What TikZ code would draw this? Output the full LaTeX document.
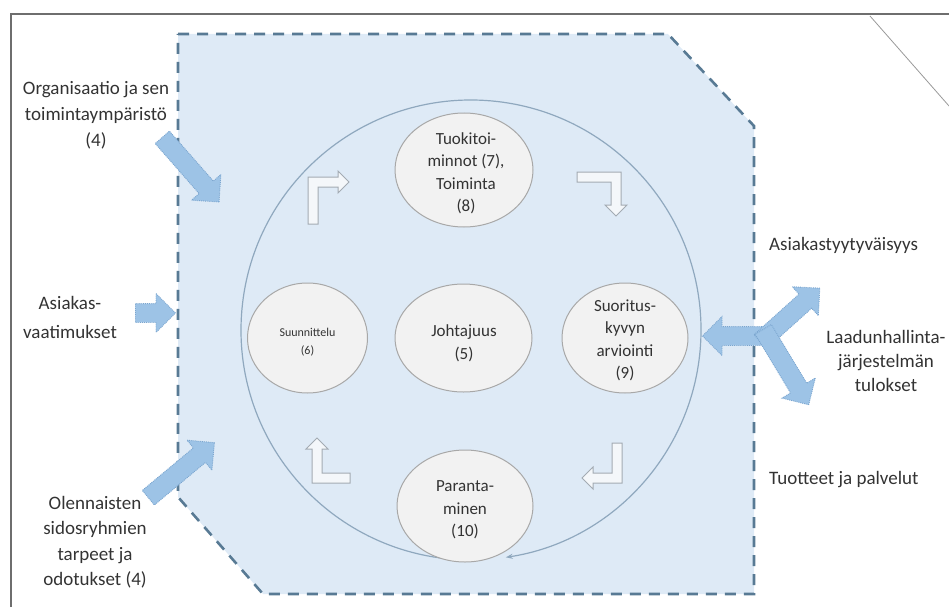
\documentclass[tikz,border=0pt]{standalone}
\usepackage{fontspec}
\setmainfont{Carlito}
\usetikzlibrary{shapes.geometric,shapes.arrows,arrows.meta}
\definecolor{panelfill}{HTML}{DEEAF6}
\definecolor{paneldash}{HTML}{587A94}
\definecolor{framegray}{HTML}{6E6E6E}
\definecolor{ringcol}{HTML}{8FA8BE}
\definecolor{ellfill}{HTML}{F2F2F2}
\definecolor{elldraw}{HTML}{A8A8A8}
\definecolor{blockfill}{HTML}{9DC3E6}
\definecolor{blockdraw}{HTML}{7AA5CF}
\definecolor{txtcol}{HTML}{333333}
\definecolor{bentfill}{HTML}{F4F7FA}
\definecolor{bentdraw}{HTML}{A3ABB3}
\begin{document}
\begin{tikzpicture}[x=1pt,y=-1pt,
  ell/.style={ellipse,fill=ellfill,draw=elldraw,line width=1pt,inner sep=0pt},
  elltxt/.style={align=center,text=txtcol,inner sep=0pt,font=\fontsize{17}{22.5}\selectfont},
  lbl/.style={align=center,text=txtcol,inner sep=0pt,font=\fontsize{19}{26}\selectfont},
  blockarr/.style={single arrow,fill=blockfill,draw=blockdraw,densely dotted,line width=0.9pt,
    text height=0pt,text depth=0pt,inner xsep=0pt,inner ysep=9pt,
    single arrow head extend=10pt,anchor=tail},
  bent/.style={fill=bentfill,draw=bentdraw,line width=1pt,line join=miter}]
\useasboundingbox (0,0) rectangle (949,607);
% outer frame
\draw[framegray,line width=2.5pt] (11,607) -- (11,14) -- (949,14);
\draw[gray!80,line width=0.8pt] (870,16) -- (949,106);
% dashed panel
\draw[fill=panelfill,draw=paneldash,line width=2.6pt,dash pattern=on 11pt off 8pt]
  (178,34) -- (668,34) -- (754,126) -- (754,594) -- (263,594) -- (178,497) -- cycle;
% ring
\draw[ringcol,line width=1.2pt,-{Stealth[length=7pt,width=5pt]}]
  ([shift={(95:230)}]471,330) arc[start angle=95,end angle=441.3,radius=230];
% ellipses
\node[ell,minimum width=138pt,minimum height=114pt] (tuki) at (464,170) {};
\node[elltxt] (tukitxt) at (466,173.5) {Tuokitoi-\\minnot (7),\\Toiminta\\(8)};
\node[ell,minimum width=120pt,minimum height=110pt] (suun) at (307.5,338) {};
\node[elltxt,font=\fontsize{12}{18}\selectfont] (suuntxt) at (307.5,342) {Suunnittelu\\(6)};
\node[ell,minimum width=137pt,minimum height=108pt] (joht) at (463.5,338) {};
\node[elltxt] (johttxt) at (464,343.5) {Johtajuus\\(5)};
\node[ell,minimum width=126pt,minimum height=110pt] (suor) at (625,338) {};
\node[elltxt] (suortxt) at (625,340.5) {Suoritus-\\kyvyn\\arviointi\\(9)};
\node[ell,minimum width=136pt,minimum height=112pt] (para) at (465,506) {};
\node[elltxt] (paratxt) at (465,510) {Paranta-\\minen\\(10)};
% bent arrows
\draw[bent] (308,224) -- (308,177) -- (338,177) -- (338,171) -- (349,182) -- (338,193) -- (338,187) -- (318,187) -- (318,224) -- cycle;
\draw[bent] (577,172) -- (621,172) -- (621,205) -- (627,205) -- (616,216) -- (605,205) -- (611,205) -- (611,182) -- (577,182) -- cycle;
\draw[bent] (622,443) -- (622,483) -- (593,483) -- (593,489) -- (582,478) -- (593,467) -- (593,473) -- (612,473) -- (612,443) -- cycle;
\draw[bent] (350,483) -- (312,483) -- (312,449) -- (306,449) -- (317,438) -- (328,449) -- (322,449) -- (322,473) -- (350,473) -- cycle;
% left labels and input arrows
\node[lbl] (org) at (96,115) {Organisaatio ja sen\\toimintaympäristö\\(4)};
\node[lbl,font=\fontsize{19}{29}\selectfont] (asi) at (70,317) {Asiakas-\\vaatimukset};
\node[lbl,font=\fontsize{19}{25.5}\selectfont] (olen) at (95,542) {Olennaisten\\sidosryhmien\\tarpeet ja\\odotukset (4)};
\node[blockarr,minimum height=86pt,rotate=-48.7] (aorg) at (162,137) {};
\node[blockarr,minimum height=40pt] (aasi) at (135,313) {};
\node[blockarr,minimum height=86pt,rotate=39.8] (aolen) at (148,498) {};
% right outputs
\coordinate (hub) at (767,336);
\node[blockarr,minimum height=74pt,rotate=180] (aout) at (777,336) {};
\node[blockarr,minimum height=80pt,rotate=42] (aup) at (760,342) {};
\node[blockarr,minimum height=88pt,rotate=-58.9] (adown) at (763,329) {};
\node[lbl,anchor=west] (sat) at (769,245) {Asiakastyytyväisyys};
\node[lbl,font=\fontsize{19}{24}\selectfont] (laat) at (886,361) {Laadunhallinta-\\järjestelmän\\tulokset};
\node[lbl,anchor=west] (tuot) at (769,480) {Tuotteet ja palvelut};
\end{tikzpicture}
\end{document}
